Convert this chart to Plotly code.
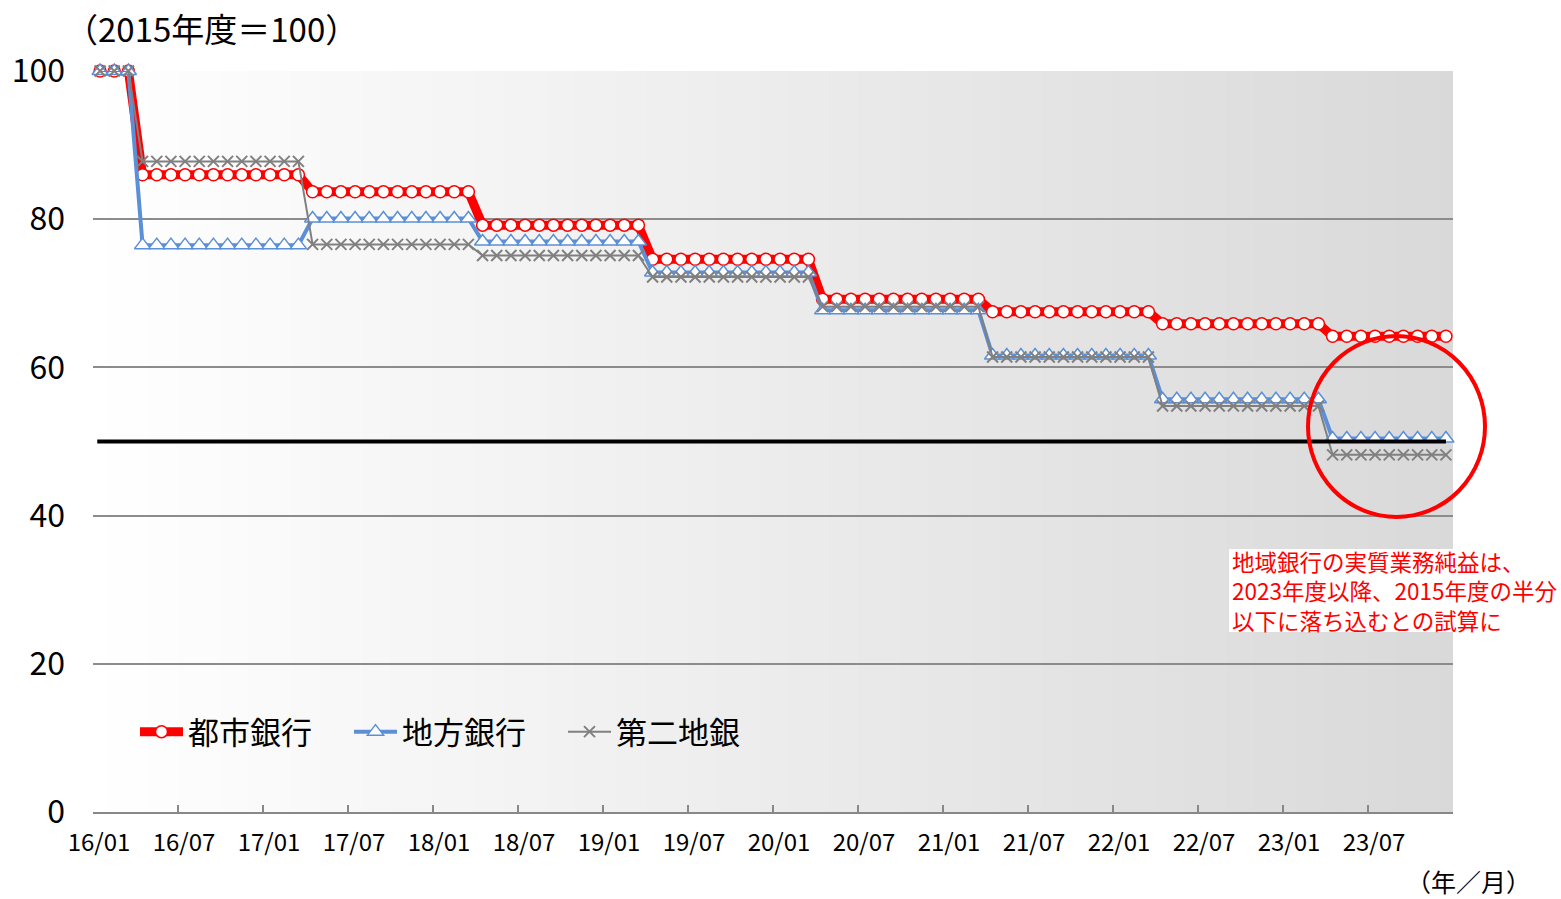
import plotly.graph_objects as go

# ---- data -------------------------------------------------------------
# Index of real core business profit, FY2015 = 100.
# Each fiscal year (April-March) holds one level, shown monthly from 16/01 to 23/12.
fiscal_years = ["FY2015", "FY2016", "FY2017", "FY2018", "FY2019",
                "FY2020", "FY2021", "FY2022", "FY2023"]
months_shown = [3, 12, 12, 12, 12, 12, 12, 12, 9]

city_banks = [100, 86.0, 83.7, 79.2, 74.6, 69.2, 67.5, 65.9, 64.2]
regional_banks = [100, 76.5, 80.1, 77.0, 72.8, 67.7, 61.6, 55.7, 50.4]
second_regional = [100, 87.8, 76.6, 75.1, 72.2, 68.2, 61.4, 54.8, 48.2]

half_level = 50

tick_labels = ["16/01", "16/07", "17/01", "17/07", "18/01", "18/07", "19/01",
               "19/07", "20/01", "20/07", "21/01", "21/07", "22/01", "22/07",
               "23/01", "23/07"]

series_names = ["都市銀行", "地方銀行", "第二地銀"]
note_lines = ["地域銀行の実質業務純益は、",
              "2023年度以降、2015年度の半分",
              "以下に落ち込むとの試算に"]
y_caption = "（2015年度＝100）"
x_caption = "（年／月）"


def monthly(levels):
    out = []
    for lvl, n in zip(levels, months_shown):
        out.extend([lvl] * n)
    return out


n_months = sum(months_shown)
x_pos = [i + 0.5 for i in range(n_months)]  # points sit mid-month

# ---- layout geometry (pixels) ----------------------------------------
W, H = 1561, 899
L, R, T, B = 93, 1453, 71, 812


def px(x):
    return (x - L) / (R - L)


def py(y):
    return (B - y) / (B - T)


JP = "Noto Sans CJK JP, Noto Sans, sans-serif"

fig = go.Figure()

fig.add_trace(go.Scatter(
    x=x_pos, y=monthly(city_banks), name=series_names[0], mode="lines+markers",
    line=dict(color="#ff0000", width=9),
    marker=dict(symbol="circle", size=12, color="white",
                line=dict(color="#ff0000", width=1.5)),
    cliponaxis=False))

fig.add_trace(go.Scatter(
    x=x_pos, y=monthly(regional_banks), name=series_names[1], mode="lines+markers",
    line=dict(color="#5b8fd8", width=4),
    marker=dict(symbol="triangle-up", size=14, color="white",
                line=dict(color="#5b8fd8", width=1.5)),
    cliponaxis=False))

fig.add_trace(go.Scatter(
    x=x_pos, y=monthly(second_regional), name=series_names[2], mode="lines+markers",
    line=dict(color="#808080", width=2),
    marker=dict(symbol="x-thin-open", size=11, color="#808080",
                line=dict(color="#808080", width=2)),
    cliponaxis=False))

fig.add_trace(go.Scatter(
    x=[x_pos[0] - 0.2, x_pos[-1]], y=[half_level, half_level], mode="lines",
    line=dict(color="black", width=4), showlegend=False, hoverinfo="skip"))

# ---- background gradient (white to light grey, left to right) ---------
shapes = []
n_strips = 96
for k in range(n_strips):
    v = round(255 - (255 - 217) * (k + 0.5) / n_strips)
    shapes.append(dict(
        type="rect", xref="x", yref="y", layer="below",
        x0=n_months * k / n_strips, x1=n_months * (k + 1) / n_strips + 0.05,
        y0=0, y1=100, line=dict(width=0),
        fillcolor=f"rgb({v},{v},{v})"))

# highlight circle
shapes.append(dict(
    type="circle", xref="paper", yref="paper",
    x0=px(1308), x1=px(1485), y0=py(517), y1=py(336),
    line=dict(color="#ff0000", width=4), fillcolor="rgba(0,0,0,0)"))

# white box behind the note
shapes.append(dict(
    type="rect", xref="paper", yref="paper", layer="above",
    x0=px(1229), x1=px(1561), y0=py(632), y1=py(549),
    line=dict(width=0), fillcolor="white"))

annotations = [
    dict(text=y_caption, xref="paper", yref="paper", x=px(63), y=py(28),
         xanchor="left", yanchor="middle", showarrow=False,
         font=dict(family=JP, size=33, color="black")),
    dict(text=x_caption, xref="paper", yref="paper", x=px(1405), y=py(881),
         xanchor="left", yanchor="middle", showarrow=False, borderpad=0,
         font=dict(family=JP, size=25, color="black")),
    dict(text="<br>".join(note_lines), xref="paper", yref="paper",
         x=px(1231), y=py(590), align="left",
         xanchor="left", yanchor="middle", showarrow=False, borderpad=0,
         font=dict(family=JP, size=22.5, color="#ff0000")),
]

fig.update_layout(
    width=W, height=H,
    margin=dict(l=L, r=W - R, t=T, b=H - B, pad=0),
    paper_bgcolor="white", plot_bgcolor="white",
    showlegend=True,
    legend=dict(orientation="h", x=px(135), y=py(732), xanchor="left",
                yanchor="middle", bgcolor="rgba(0,0,0,0)",
                font=dict(family=JP, size=31, color="black"),
                itemwidth=43, entrywidth=156, entrywidthmode="pixels"),
    shapes=shapes, annotations=annotations,
    xaxis=dict(range=[0, n_months], tickmode="array",
               tickvals=list(range(0, n_months + 1, 6)),
               ticktext=tick_labels + [""],
               ticks="inside", ticklen=7, tickwidth=1.5, tickcolor="#888888",
               showline=True, linecolor="#888888", linewidth=2,
               showgrid=False, zeroline=False, ticklabelshift=6,
               ticklabelstandoff=8,
               tickfont=dict(family=JP, size=24, color="black")),
    yaxis=dict(range=[0, 100], tickmode="array", tickvals=[0, 20, 40, 60, 80, 100],
               showgrid=True, gridcolor="#8c8c8c", gridwidth=1.5,
               showline=False, zeroline=False, ticks="",
               ticklabelstandoff=27,
               tickfont=dict(family=JP, size=32, color="black")),
)

fig.write_html("out.html")
